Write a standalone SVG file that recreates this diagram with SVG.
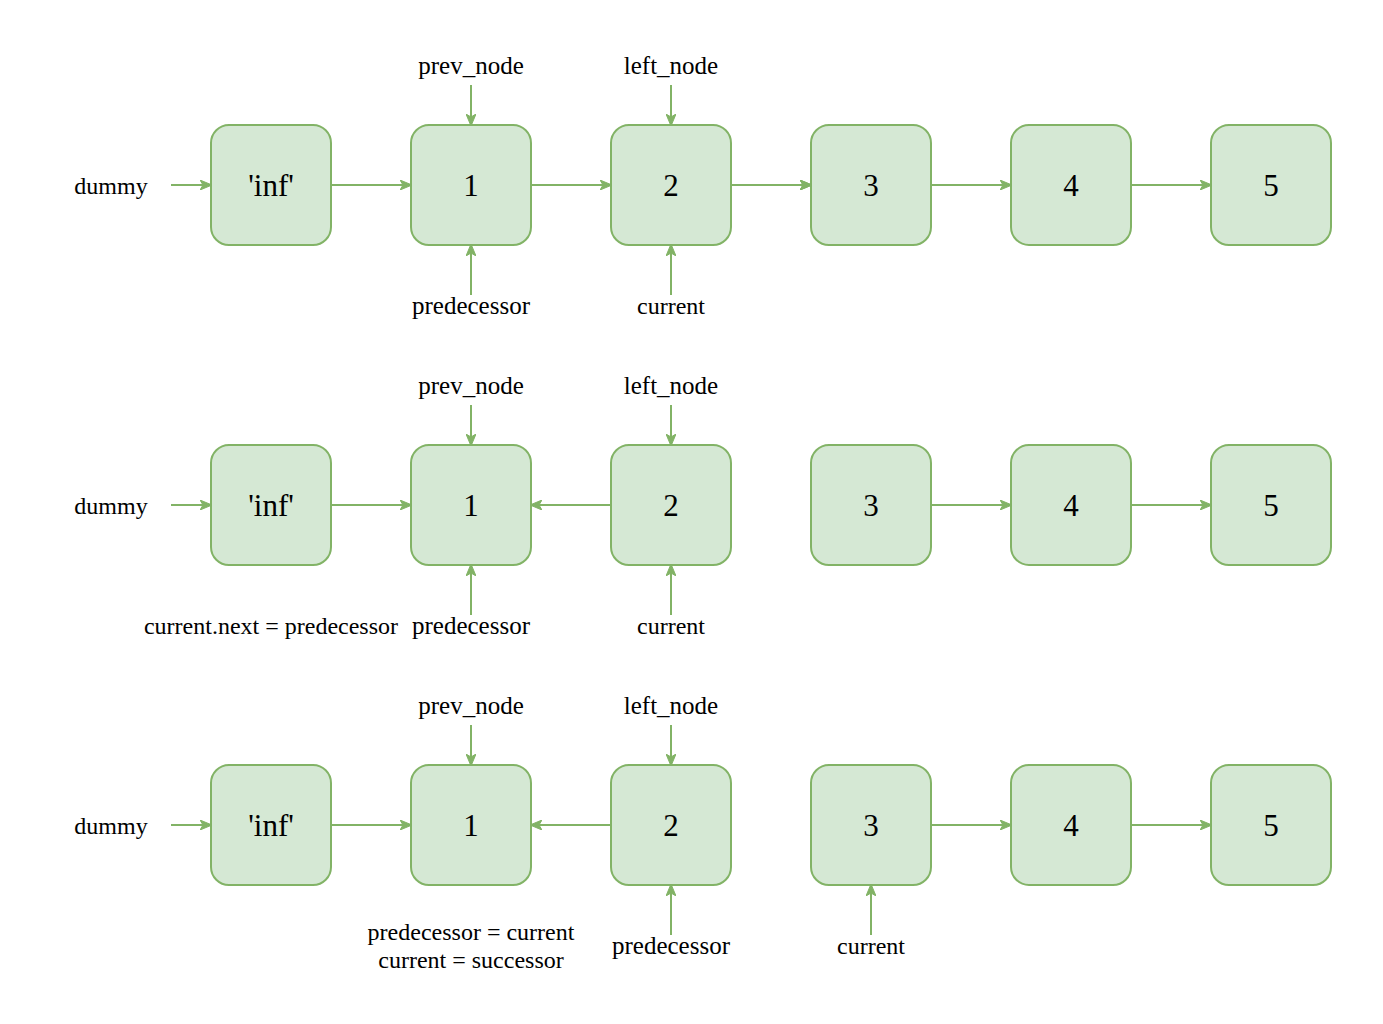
<svg xmlns="http://www.w3.org/2000/svg" width="1383" height="1024" viewBox="0 0 1383 1024">
<style>
.n rect{fill:#d5e8d4;stroke:#82b366;stroke-width:2}
.n text{font-family:"Liberation Serif",serif;font-size:31px;fill:#000;text-anchor:middle}
.lbl{font-family:"Liberation Serif",serif;font-size:25px;fill:#000;text-anchor:middle}
.s{font-size:24px}
.c line{stroke:#82b366;stroke-width:2;fill:none;marker-end:url(#ah)}
</style>
<defs>
<marker id="ah" viewBox="0 0 12 10" refX="11" refY="5" markerWidth="12" markerHeight="10" markerUnits="userSpaceOnUse" orient="auto">
<path d="M0,0 L12,5 L0,10 L3,5 Z" fill="#82b366" stroke="#82b366" stroke-width="1"/>
</marker>
</defs>
<rect width="1383" height="1024" fill="#fff"/>

<g id="row1">
<g id="r1inf" class="n"><rect x="211" y="125" width="120" height="120" rx="18"/><text x="271" y="196">'inf'</text></g>
<g id="r1n1" class="n"><rect x="411" y="125" width="120" height="120" rx="18"/><text x="471" y="196">1</text></g>
<g id="r1n2" class="n"><rect x="611" y="125" width="120" height="120" rx="18"/><text x="671" y="196">2</text></g>
<g id="r1n3" class="n"><rect x="811" y="125" width="120" height="120" rx="18"/><text x="871" y="196">3</text></g>
<g id="r1n4" class="n"><rect x="1011" y="125" width="120" height="120" rx="18"/><text x="1071" y="196">4</text></g>
<g id="r1n5" class="n"><rect x="1211" y="125" width="120" height="120" rx="18"/><text x="1271" y="196">5</text></g>
</g>
<g id="row2">
<g id="r2inf" class="n"><rect x="211" y="445" width="120" height="120" rx="18"/><text x="271" y="516">'inf'</text></g>
<g id="r2n1" class="n"><rect x="411" y="445" width="120" height="120" rx="18"/><text x="471" y="516">1</text></g>
<g id="r2n2" class="n"><rect x="611" y="445" width="120" height="120" rx="18"/><text x="671" y="516">2</text></g>
<g id="r2n3" class="n"><rect x="811" y="445" width="120" height="120" rx="18"/><text x="871" y="516">3</text></g>
<g id="r2n4" class="n"><rect x="1011" y="445" width="120" height="120" rx="18"/><text x="1071" y="516">4</text></g>
<g id="r2n5" class="n"><rect x="1211" y="445" width="120" height="120" rx="18"/><text x="1271" y="516">5</text></g>
</g>
<g id="row3">
<g id="r3inf" class="n"><rect x="211" y="765" width="120" height="120" rx="18"/><text x="271" y="836">'inf'</text></g>
<g id="r3n1" class="n"><rect x="411" y="765" width="120" height="120" rx="18"/><text x="471" y="836">1</text></g>
<g id="r3n2" class="n"><rect x="611" y="765" width="120" height="120" rx="18"/><text x="671" y="836">2</text></g>
<g id="r3n3" class="n"><rect x="811" y="765" width="120" height="120" rx="18"/><text x="871" y="836">3</text></g>
<g id="r3n4" class="n"><rect x="1011" y="765" width="120" height="120" rx="18"/><text x="1071" y="836">4</text></g>
<g id="r3n5" class="n"><rect x="1211" y="765" width="120" height="120" rx="18"/><text x="1271" y="836">5</text></g>
</g>

<g id="labels">
<text class="lbl s" x="111" y="194">dummy</text>
<text class="lbl" x="471" y="74">prev_node</text>
<text class="lbl" x="671" y="74">left_node</text>
<text class="lbl" x="471" y="314">predecessor</text>
<text class="lbl s" x="671" y="314">current</text>

<text class="lbl s" x="111" y="514">dummy</text>
<text class="lbl" x="471" y="394">prev_node</text>
<text class="lbl" x="671" y="394">left_node</text>
<text class="lbl s" x="271" y="634">current.next = predecessor</text>
<text class="lbl" x="471" y="634">predecessor</text>
<text class="lbl s" x="671" y="634">current</text>

<text class="lbl s" x="111" y="834">dummy</text>
<text class="lbl" x="471" y="714">prev_node</text>
<text class="lbl" x="671" y="714">left_node</text>
<text class="lbl s" x="471" y="940">predecessor = current</text>
<text class="lbl s" x="471" y="968">current = successor</text>
<text class="lbl" x="671" y="954">predecessor</text>
<text class="lbl s" x="871" y="954">current</text>
</g>

<g id="connectors" class="c">
<line x1="171" y1="185" x2="211" y2="185"/>
<line x1="331" y1="185" x2="411" y2="185"/>
<line x1="531" y1="185" x2="611" y2="185"/>
<line x1="731" y1="185" x2="811" y2="185" style="stroke:#76a35c"/>
<line x1="731" y1="185" x2="811" y2="185"/>
<line x1="931" y1="185" x2="1011" y2="185"/>
<line x1="1131" y1="185" x2="1211" y2="185"/>
<line x1="471" y1="85" x2="471" y2="125"/>
<line x1="671" y1="85" x2="671" y2="125"/>
<line x1="471" y1="295" x2="471" y2="245"/>
<line x1="671" y1="295" x2="671" y2="245"/>

<line x1="171" y1="505" x2="211" y2="505"/>
<line x1="331" y1="505" x2="411" y2="505"/>
<line x1="611" y1="505" x2="531" y2="505"/>
<line x1="931" y1="505" x2="1011" y2="505"/>
<line x1="1131" y1="505" x2="1211" y2="505"/>
<line x1="471" y1="405" x2="471" y2="445"/>
<line x1="671" y1="405" x2="671" y2="445"/>
<line x1="471" y1="615" x2="471" y2="565"/>
<line x1="671" y1="615" x2="671" y2="565"/>

<line x1="171" y1="825" x2="211" y2="825"/>
<line x1="331" y1="825" x2="411" y2="825"/>
<line x1="611" y1="825" x2="531" y2="825"/>
<line x1="931" y1="825" x2="1011" y2="825"/>
<line x1="1131" y1="825" x2="1211" y2="825"/>
<line x1="471" y1="725" x2="471" y2="765"/>
<line x1="671" y1="725" x2="671" y2="765"/>
<line x1="671" y1="935" x2="671" y2="885"/>
<line x1="871" y1="935" x2="871" y2="885"/>
</g>
</svg>
